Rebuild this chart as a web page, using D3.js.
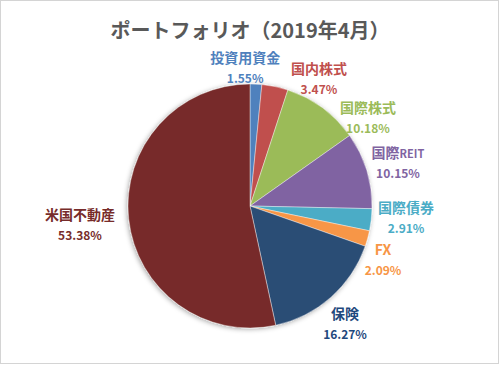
<!DOCTYPE html>
<html>

<head>
    <meta charset="utf-8">
    <style>
        body {
            margin: 0;
            background: #fff;
        }

        svg {
            display: block;
            font-family: 'Noto Sans CJK JP', 'Noto Sans', sans-serif;
        }

        .title {
            font-size: 20px;
            font-weight: 700;
            fill: #595959;
        }

        .name {
            font-size: 14px;
            font-weight: 700;
        }

        .pct {
            font-size: 12px;
            font-weight: 700;
        }
    </style>
</head>

<body>
    <svg width="500" height="366"></svg>

    <script src="https://d3js.org/d3.v7.min.js"></script>
    <script>
        // data, in clockwise order from 12 o'clock
        let categories = ["投資用資金", "国内株式", "国際株式", "国際REIT", "国際債券", "FX", "保険", "米国不動産"]
        let shares = [1.55, 3.47, 10.18, 10.15, 2.91, 2.09, 16.27, 53.38]
        let sliceColors = ["#4F81BD", "#C0504D", "#9BBB59", "#8064A2", "#4BACC6", "#F79646", "#2C4D75", "#772C2A"]
        let labelColors = ["#4F81BD", "#C0504D", "#9BBB59", "#8064A2", "#4BACC6", "#F79646", "#1F497D", "#772C2A"]
        let chartTitle = "ポートフォリオ（2019年4月）"

        // label spots around the pie: [angle in degrees, distance from centre]
        let labelAt = [[-2, 139], [28.4, 145], [53.1, 147.5], [73.4, 154.4], [93.9, 156.4], [111.7, 143.2], [140.9, 150.7], [264.1, 170.9]]

        let width = 500
        let height = 366
        let cx = 250
        let cy = 206
        let radius = 122

        let svg = d3.select("svg")

        // soft shadow like the excel pie
        let defs = svg.append("defs")
        defs.append("filter")
            .attr("id", "shadow")
            .attr("x", "-20%").attr("y", "-20%")
            .attr("width", "140%").attr("height", "140%")
            .append("feDropShadow")
            .attr("dx", -1)
            .attr("dy", 1)
            .attr("stdDeviation", 2.5)
            .attr("flood-color", "#000")
            .attr("flood-opacity", 0.35)

        // chart border
        svg.append("rect")
            .attr("x", 0.5)
            .attr("y", 0.5)
            .attr("width", width - 2)
            .attr("height", height - 3)
            .attr("fill", "#fff")
            .attr("stroke", "#d4d4d4")

        svg.append("text")
            .attr("class", "title")
            .attr("x", cx)
            .attr("y", 38)
            .attr("text-anchor", "middle")
            .text(chartTitle)

        let data = categories.map((c, i) => ({ name: c, value: shares[i], color: sliceColors[i], label: labelColors[i], spot: labelAt[i] }))

        let pie = d3.pie()
            .value(d => d.value)
            .sort(null)

        let arc = d3.arc()
            .innerRadius(0)
            .outerRadius(radius)

        let arcs = pie(data)

        let g = svg.append("g")
            .attr("transform", `translate(${cx},${cy})`)

        g.append("g")
            .attr("filter", "url(#shadow)")
            .selectAll("path")
            .data(arcs)
            .join("path")
            .attr("d", arc)
            .attr("fill", d => d.data.color)
            .attr("stroke", "#fff")
            .attr("stroke-width", 0.4)

        // labels
        let labels = g.selectAll(".lbl")
            .data(arcs)
            .join("g")
            .attr("class", "lbl")
            .attr("transform", d => {
                let p = d3.pointRadial(d.data.spot[0] * Math.PI / 180, d.data.spot[1])
                return `translate(${p[0]},${p[1]})`
            })
            .style("fill", d => d.data.label)

        let names = labels.append("text")
            .attr("class", "name")
            .attr("y", -4)
            .attr("text-anchor", "middle")

        names.each(function (d) {
            let t = d3.select(this)
            if (d.data.name.endsWith("REIT")) {
                t.append("tspan").text(d.data.name.replace("REIT", ""))
                t.append("tspan").style("font-size", "11px").text("REIT")
            } else {
                t.text(d.data.name)
            }
        })

        labels.append("text")
            .attr("class", "pct")
            .attr("y", 16)
            .attr("text-anchor", "middle")
            .text(d => d3.format(".2f")(d.data.value) + "%")
    </script>
</body>

</html>
